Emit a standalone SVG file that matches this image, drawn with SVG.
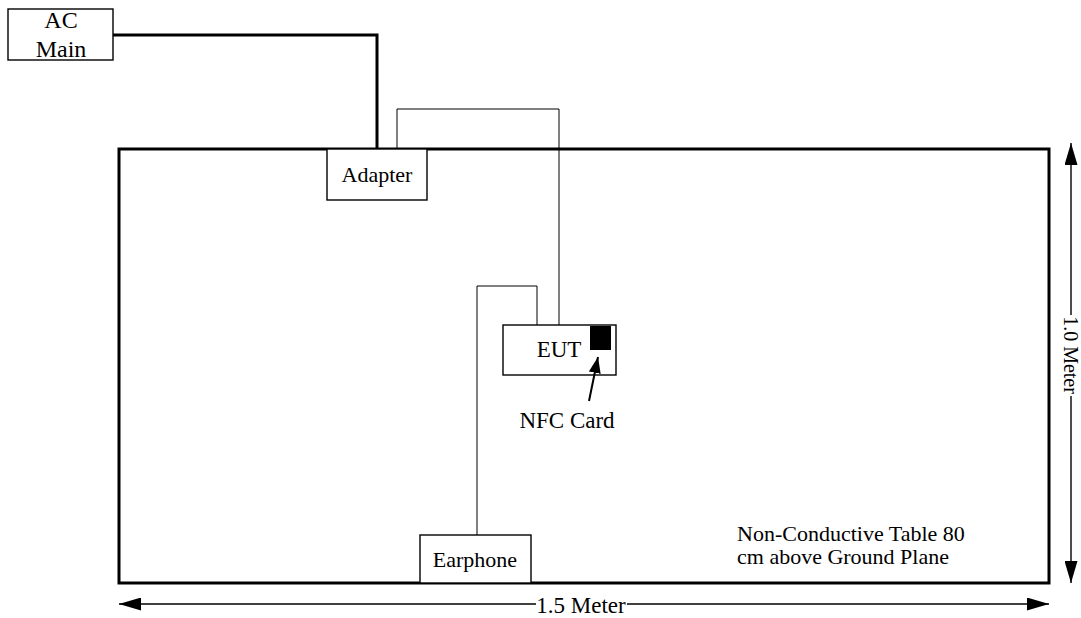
<svg xmlns="http://www.w3.org/2000/svg" width="1081" height="618" viewBox="0 0 1081 618">
<style>
text{font-family:"Liberation Serif","Times New Roman",serif;font-size:22px;fill:#000}
.box{fill:#fff;stroke:#000;stroke-width:1.4}
.thin{fill:none;stroke:#000;stroke-width:1}
.thick{fill:none;stroke:#000;stroke-width:3}
.dim{fill:none;stroke:#000;stroke-width:1.4}
.mid{text-anchor:middle}
</style>
<defs>
<marker id="ah" viewBox="0 0 22 13" refX="22" refY="6.5" markerWidth="22" markerHeight="13" markerUnits="userSpaceOnUse" orient="auto">
<path d="M0,0 L22,6.5 L0,13 Z" fill="#000"/>
</marker>
<marker id="ah2" viewBox="0 0 16 12" refX="16" refY="6" markerWidth="16" markerHeight="12" markerUnits="userSpaceOnUse" orient="auto">
<path d="M0,0 L16,6 L0,12 Z" fill="#000"/>
</marker>
</defs>
<g id="table">
<rect x="119" y="149" width="930" height="434" fill="#fff" stroke="#000" stroke-width="3"/>
<text x="737" y="541">Non-Conductive Table 80</text>
<text x="737" y="564">cm above Ground Plane</text>
</g>
<g id="connectors">
<polyline class="thick" points="113,35 377,35 377,149"/>
<polyline class="thin" points="397,149 397,109 559,109 559,325"/>
<polyline class="thin" points="537,325 537,286 477,286 477,535"/>
</g>
<g id="ac-main">
<rect class="box" x="8" y="9" width="105" height="51"/>
<text class="mid" x="61" y="28" style="font-size:24px">AC</text>
<text class="mid" x="61" y="57" style="font-size:24px">Main</text>
</g>
<g id="adapter">
<rect class="box" x="327" y="149" width="100" height="51"/>
<text class="mid" x="377" y="182">Adapter</text>
</g>
<g id="eut">
<rect class="box" x="503" y="325" width="113" height="50"/>
<text class="mid" x="559" y="357" style="font-size:23px">EUT</text>
<rect x="590" y="326" width="21" height="24" fill="#000"/>
</g>
<g id="nfc-label">
<line x1="589" y1="401" x2="598" y2="357" stroke="#000" stroke-width="2" marker-end="url(#ah2)"/>
<text class="mid" x="567" y="428" style="font-size:23px">NFC Card</text>
</g>
<g id="earphone">
<rect class="box" x="420" y="535" width="111" height="48"/>
<text class="mid" x="475" y="567">Earphone</text>
</g>
<g id="dim-h">
<line class="dim" x1="536" y1="604" x2="119" y2="604" marker-end="url(#ah)"/>
<line class="dim" x1="627" y1="604" x2="1049" y2="604" marker-end="url(#ah)"/>
<text class="mid" x="581" y="613" style="font-size:23px">1.5 Meter</text>
</g>
<g id="dim-v">
<line class="dim" x1="1071" y1="315" x2="1071" y2="143" marker-end="url(#ah)"/>
<line class="dim" x1="1071" y1="396" x2="1071" y2="583" marker-end="url(#ah)"/>
<text class="mid" transform="translate(1064,355) rotate(90)" style="font-size:20px">1.0 Meter</text>
</g>
</svg>
